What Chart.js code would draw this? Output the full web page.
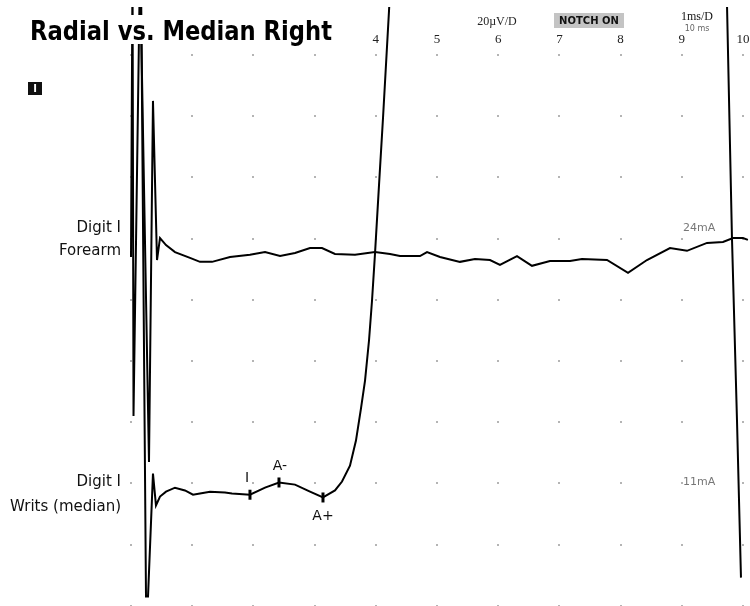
<!DOCTYPE html>
<html>
<head>
<meta charset="utf-8">
<title>Radial vs. Median Right</title>
<script src="https://cdn.jsdelivr.net/npm/chart.js@4.4.1/dist/chart.umd.min.js"></script>
<style>
  html, body { margin: 0; padding: 0; background: #fff; }
  #wrap { width: 750px; height: 606px; }
</style>
</head>
<body>
<div id="wrap"><canvas id="emgChart" width="750" height="606"></canvas></div>
<script>
// Trace 1: Digit I / Forearm  (time in ms, amplitude in uV, up = positive)
const forearmTime = [0, 0.025, 0.041, 0.147, 0.294, 0.359, 0.425, 0.474, 0.572, 0.719, 0.964, 1.127, 1.324, 1.618, 1.944, 2.19, 2.435, 2.68, 2.925, 3.121, 3.333, 3.66, 3.987, 4.232, 4.395, 4.722, 4.837, 5.049, 5.376, 5.621, 5.866, 6.029, 6.307, 6.552, 6.846, 7.173, 7.369, 7.778, 8.121, 8.431, 8.807, 9.085, 9.412, 9.673, 9.837, 10.0, 10.08];
const forearmAmp = [0, 95, -52, 95, -67, 51, -1, 6.2, 3.9, 1.6, -0.3, -1.6, -1.6, 0, 0.7, 1.6, 0.3, 1.3, 2.9, 2.9, 1.0, 0.7, 1.6, 1.0, 0.3, 0.3, 1.6, 0, -1.6, -0.7, -1.0, -2.6, 0.3, -2.9, -1.3, -1.3, -0.7, -1.0, -5.2, -1.0, 2.9, 2.0, 4.6, 4.9, 6.2, 6.2, 5.6];

// Trace 2: Digit I / Writs (median)
const writsTime = [0.163, 0.245, 0.278, 0.359, 0.408, 0.474, 0.572, 0.719, 0.882, 1.013, 1.127, 1.291, 1.536, 1.65, 1.944, 2.19, 2.418, 2.68, 2.925, 3.137, 3.333, 3.448, 3.578, 3.676, 3.758, 3.824, 3.889, 3.938, 3.987, 4.052, 4.118, 4.216, 4.248, 9.722, 9.739, 9.82, 9.902, 9.967];
const writsAmp = [170, -34, -34, 6.2, -4.2, -1.3, 0.3, 1.6, 0.7, -0.7, -0.3, 0.3, 0, -0.3, -0.7, 1.6, 3.3, 2.6, 0.3, -1.6, 0.7, 3.6, 8.8, 17.0, 27.5, 36.6, 49.7, 62.7, 78.1, 100.3, 122.5, 157.5, 170, 170, 159, 83, 23.5, -27.8];

// cursor markers on trace 2
const markerNames = ["I", "A-", "A+"];
const markerTime = [1.944, 2.418, 3.137];
const markerAmp = [-0.7, 3.3, -1.6];

// trace baselines (uV below the top grid row), channel labels
const traceBase = [-66, -143];
const traceLabels = [["Digit I", "Forearm"], ["Digit I", "Writs (median)"]];
const traceStim = ["24mA", "11mA"];
const labelShift = [[-29, -6], [-10, 15]]; // px from baseline for the two label lines

const xTickLabels = [4, 5, 6, 7, 8, 9, 10];
const uvPerDiv = 20;

const withBase = (times, amps, base) => times.map((t, i) => ({ x: t, y: amps[i] + base }));

// white page + dotted grid under the traces
const gridPlugin = {
  id: "emgGrid",
  beforeDraw(chart) {
    const c = chart.ctx;
    c.save();
    c.fillStyle = "#fff";
    c.fillRect(0, 0, chart.width, chart.height);
    c.restore();
  },
  beforeDatasetsDraw(chart) {
    const c = chart.ctx;
    const xs = chart.scales.x, ys = chart.scales.y;
    c.save();
    c.fillStyle = "#b4b4b4";
    for (let i = 0; i <= 10; i++) {
      for (let j = 0; j <= 9; j++) {
        const px = Math.round(xs.getPixelForValue(i));
        const py = Math.round(ys.getPixelForValue(-j * uvPerDiv));
        c.fillRect(px - 1, py - 1, 2, 2);
      }
    }
    c.restore();
  }
};

// all the text on top
const textPlugin = {
  id: "emgText",
  afterDraw(chart) {
    const c = chart.ctx;
    const xs = chart.scales.x, ys = chart.scales.y;
    c.save();

    // title on a white band
    c.fillStyle = "#fff";
    c.fillRect(28, 15, 306, 29);
    c.fillStyle = "#000";
    c.font = "bold 26px 'DejaVu Sans'";
    c.textBaseline = "alphabetic";
    c.textAlign = "left";
    const title = "Radial vs. Median Right";
    const w = c.measureText(title).width;
    c.save();
    c.translate(30, 40);
    c.scale(302 / w, 1);
    c.fillText(title, 0, 0);
    c.restore();

    // little channel box
    c.fillStyle = "#111";
    c.fillRect(28, 82, 14, 13);
    c.fillStyle = "#fff";
    c.font = "bold 10px 'DejaVu Sans'";
    c.textAlign = "center";
    c.textBaseline = "middle";
    c.fillText("I", 35, 89);

    // top tick numbers
    c.fillStyle = "#222";
    c.font = "13px 'Liberation Serif'";
    c.textBaseline = "middle";
    xTickLabels.forEach(v => c.fillText(String(v), xs.getPixelForValue(v), 40));

    // header info
    c.font = "12px 'Liberation Serif'";
    c.fillText("20\u00b5V/D", 497, 22);
    c.fillStyle = "#c4c4c4";
    c.fillRect(554, 13, 70, 15);
    c.fillStyle = "#111";
    c.font = "bold 10px 'DejaVu Sans'";
    c.fillText("NOTCH ON", 589, 21);
    c.font = "12px 'Liberation Serif'";
    c.fillText("1ms/D", 697, 17);
    c.fillStyle = "#666";
    c.font = "8px 'DejaVu Sans'";
    c.fillText("10 ms", 697, 29);

    // channel labels + stim
    traceBase.forEach((b, k) => {
      const py = ys.getPixelForValue(b);
      c.fillStyle = "#111";
      c.font = "15px 'DejaVu Sans'";
      c.textAlign = "right";
      c.fillText(traceLabels[k][0], 121, py + labelShift[k][0]);
      c.fillText(traceLabels[k][1], 121, py + labelShift[k][1]);
      c.fillStyle = "#777";
      c.font = "11px 'DejaVu Sans'";
      c.textAlign = "left";
      c.fillText(traceStim[k], 683, py + labelShift[k][0]);
    });

    // marker names
    c.fillStyle = "#111";
    c.font = "14px 'DejaVu Sans'";
    c.textAlign = "center";
    const offs = [[-3, -16], [1, -16], [0, 19]];
    markerNames.forEach((m, i) => {
      const px = xs.getPixelForValue(markerTime[i]);
      const py = ys.getPixelForValue(markerAmp[i] + traceBase[1]);
      c.fillText(m, px + offs[i][0], py + offs[i][1]);
    });
    c.restore();
  }
};

const ctx = document.getElementById("emgChart").getContext("2d");
const emgChart = new Chart(ctx, {
  type: "line",
  data: {
    datasets: [
      {
        label: "Forearm",
        data: withBase(forearmTime, forearmAmp, traceBase[0]),
        borderColor: "#000",
        borderWidth: 2,
        pointRadius: 0,
        tension: 0,
      },
      {
        label: "Writs (median)",
        data: withBase(writsTime, writsAmp, traceBase[1]),
        borderColor: "#000",
        borderWidth: 2,
        pointRadius: 0,
        tension: 0,
      },
      {
        label: "Markers",
        data: withBase(markerTime, markerAmp, traceBase[1]),
        showLine: false,
        pointStyle: "line",
        rotation: 90,
        pointRadius: 5,
        borderColor: "#000",
        borderWidth: 3,
      },
    ],
  },
  options: {
    responsive: false,
    animation: false,
    events: [],
    layout: { autoPadding: false, padding: { left: 125, right: 0, top: 7, bottom: 0 } },
    scales: {
      x: { type: "linear", min: -6 / 61.2, max: 10 + 7 / 61.2, display: false },
      y: { type: "linear", min: -551 / 3.06, max: 48 / 3.06, display: false },
    },
    plugins: { legend: { display: false }, tooltip: { enabled: false } },
  },
  plugins: [gridPlugin, textPlugin],
});
</script>
</body>
</html>
